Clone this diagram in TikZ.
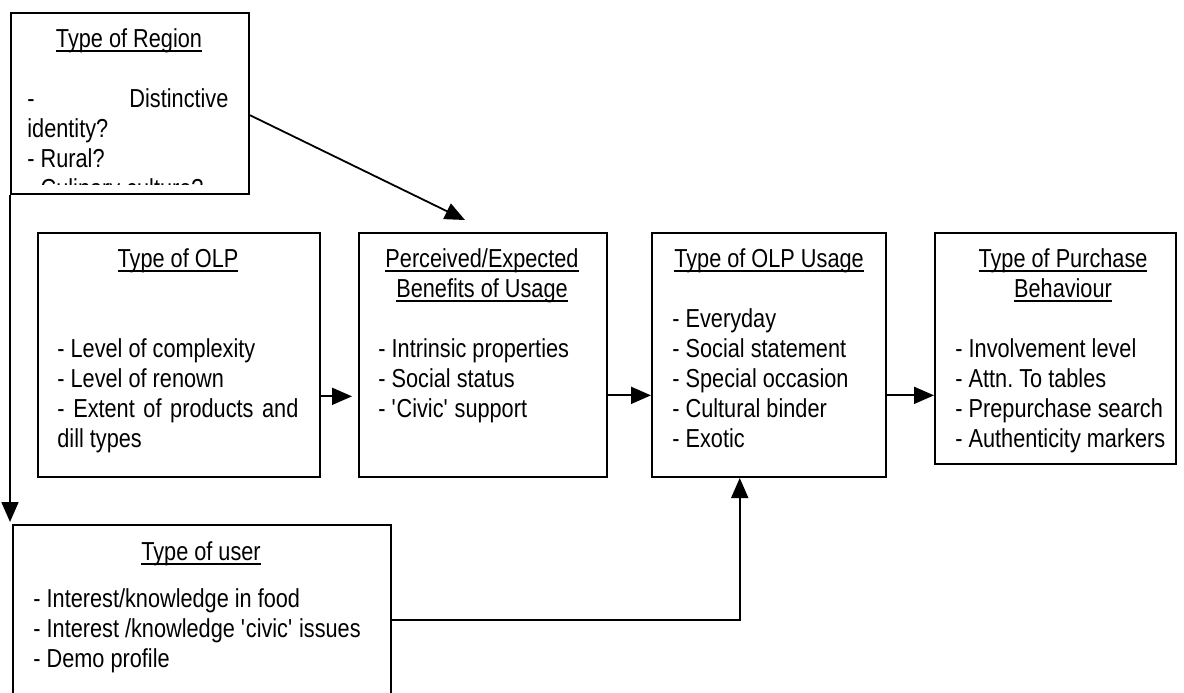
\documentclass[tikz,border=0pt]{standalone}
\usepackage{fontspec}
\setmainfont{Liberation Sans}[FakeStretch=0.835]
\usetikzlibrary{arrows.meta,calc}
\frenchspacing
\newcommand\ttlul[1]{\setbox0\hbox{#1}\rlap{\rule[-2.3pt]{\wd0}{0.85pt}}\box0}
\newcommand\sq{\textquotesingle}
\begin{document}
\begin{tikzpicture}[x=0.5pt,y=-0.5pt,
  box/.style={draw,line width=1pt,inner sep=0,anchor=north west},
  ttl/.style={inner sep=0,anchor=base,font=\fontsize{13}{15}\selectfont},
  txt/.style={inner sep=0,anchor=north west,font=\fontsize{13}{15}\selectfont,align=left},
  conn/.style={line width=0.9pt,-{Triangle[length=10pt,width=8.5pt]}}]
\useasboundingbox (0,0) rectangle (1184,692);
\fill[white] (0,0) rectangle (1184,692);

% boxes
\node[box,minimum width=119pt,minimum height=90.5pt] (region) at (10,12) {};
\node[box,minimum width=141pt,minimum height=122pt] (olp) at (37,232) {};
\node[box,minimum width=124pt,minimum height=122pt] (perc) at (358,232) {};
\node[box,minimum width=117pt,minimum height=122pt] (usage) at (651,232) {};
\node[box,minimum width=120.5pt,minimum height=115.5pt] (purch) at (934,232) {};
\node[box,minimum width=189pt,minimum height=100pt] (user) at (12,524) {};

% region text (clipped)
\node[ttl] (tregion) at (129,47) {\ttlul{Type of Region}};
\begin{scope}
\clip (10,12) rectangle (248,184);
\node[txt] (lregion) at (27,86)
  {\strut\makebox[100.5pt][s]{- Distinctive}\\ identity?\\ - Rural?\\ - Culinary culture?};
\end{scope}

% OLP
\node[ttl] (tolp) at (178,267) {\ttlul{Type of OLP}};
\node[txt] (lolp) at (57,336)
  {\strut- Level of complexity\\ - Level of renown\\ \makebox[120.5pt][s]{- Extent of products and}\\ dill types};

% Perceived
\node[ttl] (tperc1) at (482,267) {\ttlul{Perceived/Expected}};
\node[ttl] (tperc2) at (482,297) {\ttlul{Benefits of Usage}};
\node[txt] (lperc) at (378,336)
  {\strut- Intrinsic properties\\ - Social status\\ - \sq Civic\sq\ support};

% Usage
\node[ttl] (tusage) at (769,267) {\ttlul{Type of OLP Usage}};
\node[txt] (lusage) at (672,306)
  {\strut- Everyday\\ - Social statement\\ - Special occasion\\ - Cultural binder\\ - Exotic};

% Purchase
\node[ttl] (tpurch1) at (1063,267) {\ttlul{Type of Purchase}};
\node[ttl] (tpurch2) at (1063,297) {\ttlul{Behaviour}};
\node[txt] (lpurch) at (955,336)
  {\strut- Involvement level\\ - Attn. To tables\\ - Prepurchase search\\ - Authenticity markers};

% User
\node[ttl] (tuser) at (201,560) {\ttlul{Type of user}};
\node[txt] (luser) at (33,586)
  {\strut- Interest/knowledge in food\\ - Interest /knowledge \sq civic\sq\ issues\\ - Demo profile};

% connectors
\draw[conn,shorten >=3pt] ($(olp.north east)!0.668!(olp.south east)$) coordinate (a1) -- (a1 -| perc.west);
\draw[conn] ($(perc.north east)!0.664!(perc.south east)$) coordinate (a2) -- (a2 -| usage.west);
\draw[conn] ($(usage.north east)!0.664!(usage.south east)$) coordinate (a3) -- (a3 -| purch.west);
\coordinate (rp) at ($(perc.north west)+(107,-12)$);
\draw[conn] ($(region.north east)!0.564!(region.south east)$) -- (rp);
\draw[conn,shorten >=1pt] (region.south west) -- (region.south west |- user.north);
\draw[conn] ($(user.north east)!0.475!(user.south east)$) -| ($(usage.south west)!0.376!(usage.south east)$);
\end{tikzpicture}
\end{document}
